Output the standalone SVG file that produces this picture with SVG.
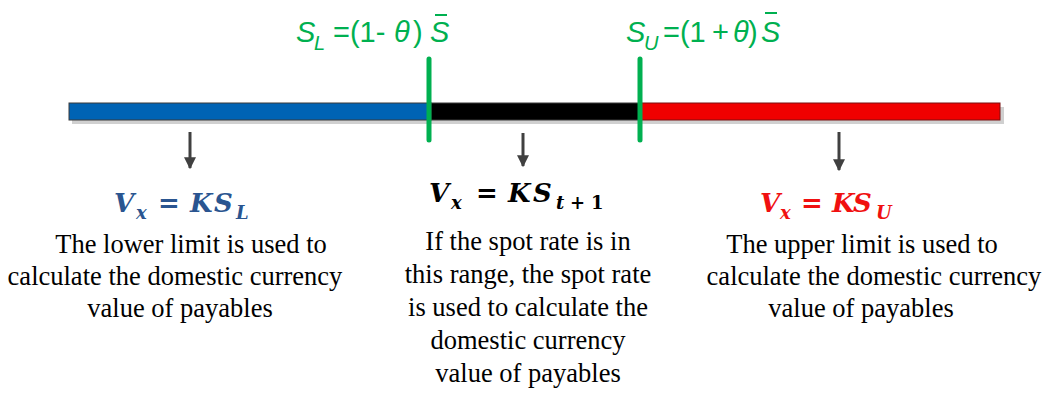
<svg xmlns="http://www.w3.org/2000/svg" width="1044" height="396" viewBox="0 0 1044 396">
<style>
.body{font-family:"Liberation Serif","Times New Roman",serif;font-size:26.5px;fill:#000;text-anchor:middle}
.math{font-family:"DejaVu Serif","Liberation Serif",serif;font-size:26px;font-style:italic;font-weight:bold}
.sub{font-size:18px}
.eq{font-style:normal}
.lbl{font-family:"Liberation Sans",Arial,sans-serif;font-size:29px;fill:#00b050}
.it{font-style:italic}
.lsub{font-size:20px;font-style:italic}
.arr{stroke:#404040;stroke-width:3}
.tick{stroke:#00b050;stroke-width:5;stroke-linecap:round}
</style>
<defs>
<marker id="ah" viewBox="0 0 10 10" refX="9" refY="5" markerWidth="4" markerHeight="4" orient="auto" markerUnits="strokeWidth">
<path d="M0,0 L10,5 L0,10 z" fill="#404040"/>
</marker>
</defs>
<g id="bar">
<rect x="72" y="107" width="932" height="17" fill="#d0d0d0"/>
<rect x="69" y="103" width="362" height="17" fill="#0063b4" stroke="#3a3a3a" stroke-width="1"/>
<rect x="431" y="103" width="208" height="17" fill="#000" stroke="#3a3a3a" stroke-width="1"/>
<rect x="639" y="103" width="361" height="17" fill="#f00000" stroke="#7a1010" stroke-width="1"/>
</g>
<g id="limit-lower">
<line class="tick" x1="429" y1="59" x2="429" y2="140"/>
<text class="lbl it" x="296" y="42">S</text>
<text class="lbl lsub" x="314" y="50">L</text>
<text class="lbl" x="333" y="42">=(1-</text>
<text class="lbl it" x="394" y="42">θ</text>
<text class="lbl" x="413" y="42">)</text>
<text class="lbl it" x="430" y="42">S</text>
<line x1="435" y1="15" x2="447" y2="15" stroke="#00b050" stroke-width="2"/>
</g>
<g id="limit-upper">
<line class="tick" x1="640" y1="59" x2="640" y2="140"/>
<text class="lbl it" x="626" y="42">S</text>
<text class="lbl lsub" x="644" y="50">U</text>
<text class="lbl" x="663" y="42">=(1</text>
<text class="lbl" x="712" y="42">+</text>
<text class="lbl it" x="733" y="42">θ</text>
<text class="lbl" x="748" y="42">)</text>
<text class="lbl it" x="761" y="42">S</text>
<line x1="765" y1="13" x2="777" y2="13" stroke="#00b050" stroke-width="2"/>
</g>
<g id="connectors">
<line class="arr" x1="190" y1="132" x2="190" y2="168" marker-end="url(#ah)"/>
<line class="arr" x1="523" y1="133" x2="523" y2="166" marker-end="url(#ah)"/>
<line class="arr" x1="839" y1="132" x2="839" y2="170" marker-end="url(#ah)"/>
</g>
<g id="node-lower" fill="#2a5590">
<text class="math" x="114" y="212">V</text>
<text class="math sub" x="136" y="219">x</text>
<text class="math eq" x="158" y="212">=</text>
<text class="math" x="190" y="212">K</text>
<text class="math" x="214" y="212">S</text>
<text class="math sub" x="236" y="219">L</text>
<text class="body" x="191" y="253">The lower limit is used to</text>
<text class="body" x="175" y="285">calculate the domestic currency</text>
<text class="body" x="180" y="317">value of payables</text>
</g>
<g id="node-middle" fill="#000">
<text class="math" x="429" y="202">V</text>
<text class="math sub" x="451" y="209">x</text>
<text class="math eq" x="476" y="202">=</text>
<text class="math" x="508" y="202">K</text>
<text class="math" x="533" y="202">S</text>
<text class="math sub" x="556" y="209">t</text>
<text class="math sub eq" x="570" y="209">+</text>
<text class="math sub eq" x="591" y="209">1</text>
<text class="body" x="528" y="250">If the spot rate is in</text>
<text class="body" x="528" y="283">this range, the spot rate</text>
<text class="body" x="528" y="316">is used to calculate the</text>
<text class="body" x="528" y="349">domestic currency</text>
<text class="body" x="528" y="382">value of payables</text>
</g>
<g id="node-upper" fill="#f01010">
<text class="math" x="760" y="212">V</text>
<text class="math sub" x="780" y="219">x</text>
<text class="math eq" x="801" y="212">=</text>
<text class="math" x="832" y="212">K</text>
<text class="math" x="853" y="212">S</text>
<text class="math sub" x="876" y="219">U</text>
<text class="body" x="862" y="253">The upper limit is used to</text>
<text class="body" x="874" y="285">calculate the domestic currency</text>
<text class="body" x="861" y="317">value of payables</text>
</g>
</svg>
